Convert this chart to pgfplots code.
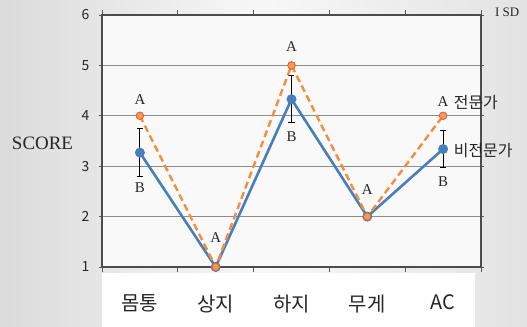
\documentclass[border=0pt]{standalone}
\usepackage{pgfplots}
\pgfplotsset{compat=1.18}
\usepackage{fontspec}
\setmainfont{Liberation Serif}
\newfontfamily\kr{Noto Sans CJK KR}
\definecolor{bluel}{HTML}{4A7EBB}
\definecolor{orl}{HTML}{F28E3E}
\definecolor{ormk}{HTML}{E0603A}
\definecolor{ormf}{HTML}{F39A55}
\begin{document}
\begin{tikzpicture}
\useasboundingbox (-102bp,-60bp) rectangle (425bp,267bp);
\shade[left color=gray!28, right color=gray!22, middle color=gray!6] (-102bp,-60bp) rectangle (425bp,267bp);
\fill[white] (0bp,-60bp) rectangle (373bp,-6bp);
\fill[gray!5] (0bp,0bp) rectangle (379bp,252bp);
\begin{axis}[
  at={(0bp,0bp)}, anchor=south west,
  scale only axis, width=379bp, height=252bp,
  xmin=-0.5, xmax=4.5, ymin=1, ymax=6,
  ytick={1,...,6},
  xtick={0,...,4},
  xticklabels={몸통,상지,하지,무게,AC},
  minor xtick={-0.5,0.5,1.5,2.5,3.5,4.5},
  tick align=outside,
  major x tick style={draw=none},
  minor x tick style={gray!70!black, line width=0.8pt},
  major y tick style={gray!70!black, line width=0.8pt},
  minor tick length=5bp, major tick length=3bp,
  ymajorgrids,
  grid style={gray!90, line width=1.1pt},
  axis line style={gray!60!black, line width=1.1pt},
  /pgf/number format/assume math mode=true,
  xticklabel style={font=\kr\fontsize{20}{20}\selectfont, text=black!85, yshift=-21bp},
  yticklabel style={font=\kr\fontsize{14}{14}\selectfont, text=black!85, xshift=-6bp},
  clip=false,
]
\addplot[bluel, line width=2.6bp, mark=*, mark size=3.6bp, mark options={fill=bluel, draw=bluel, solid},
  error bars/.cd, y dir=both, y explicit,
  error bar style={black, line width=1pt},
  error mark options={rotate=90, mark size=3bp, black, line width=1pt}]
  table[x=x, y=y, y error=e] {
x y e
0 3.27 0.48
1 1.00 0
2 4.33 0.47
3 2.00 0
4 3.34 0.37
};
\addplot[orl, line width=2.4bp, dash pattern=on 7bp off 4bp, mark=*, mark size=3.8bp,
  mark options={fill=ormf, draw=ormk, line width=0.9pt, solid}]
  coordinates {(0,4) (1,1) (2,5) (3,2) (4,4)};
\tikzset{lab/.style={font=\fontsize{15}{15}\selectfont, text=black!85}}
\node[lab] at (axis cs:0,4.32) {A};
\node[lab] at (axis cs:0,2.57) {B};
\node[lab] at (axis cs:1,1.58) {A};
\node[lab] at (axis cs:2,5.37) {A};
\node[lab] at (axis cs:2,3.58) {B};
\node[lab] at (axis cs:3,2.53) {A};
\node[lab] at (axis cs:4,4.28) {A};
\node[lab] at (axis cs:4,2.70) {B};
\node[anchor=west, inner sep=0pt, font=\kr\fontsize{16}{16}\selectfont, text=black!85] at (axis cs:4.14,4.27) {전문가};
\node[anchor=west, inner sep=0pt, font=\kr\fontsize{16}{16}\selectfont, text=black!85] at (axis cs:4.14,3.32) {비전문가};
\end{axis}
\node[font=\fontsize{19}{19}\selectfont, text=black!85] at (-59.5bp,124bp) {SCORE};
\node[anchor=west, inner sep=0pt, font=\fontsize{13}{13}\selectfont, text=black!85] at (393bp,255bp) {I SD};
\end{tikzpicture}
\end{document}
